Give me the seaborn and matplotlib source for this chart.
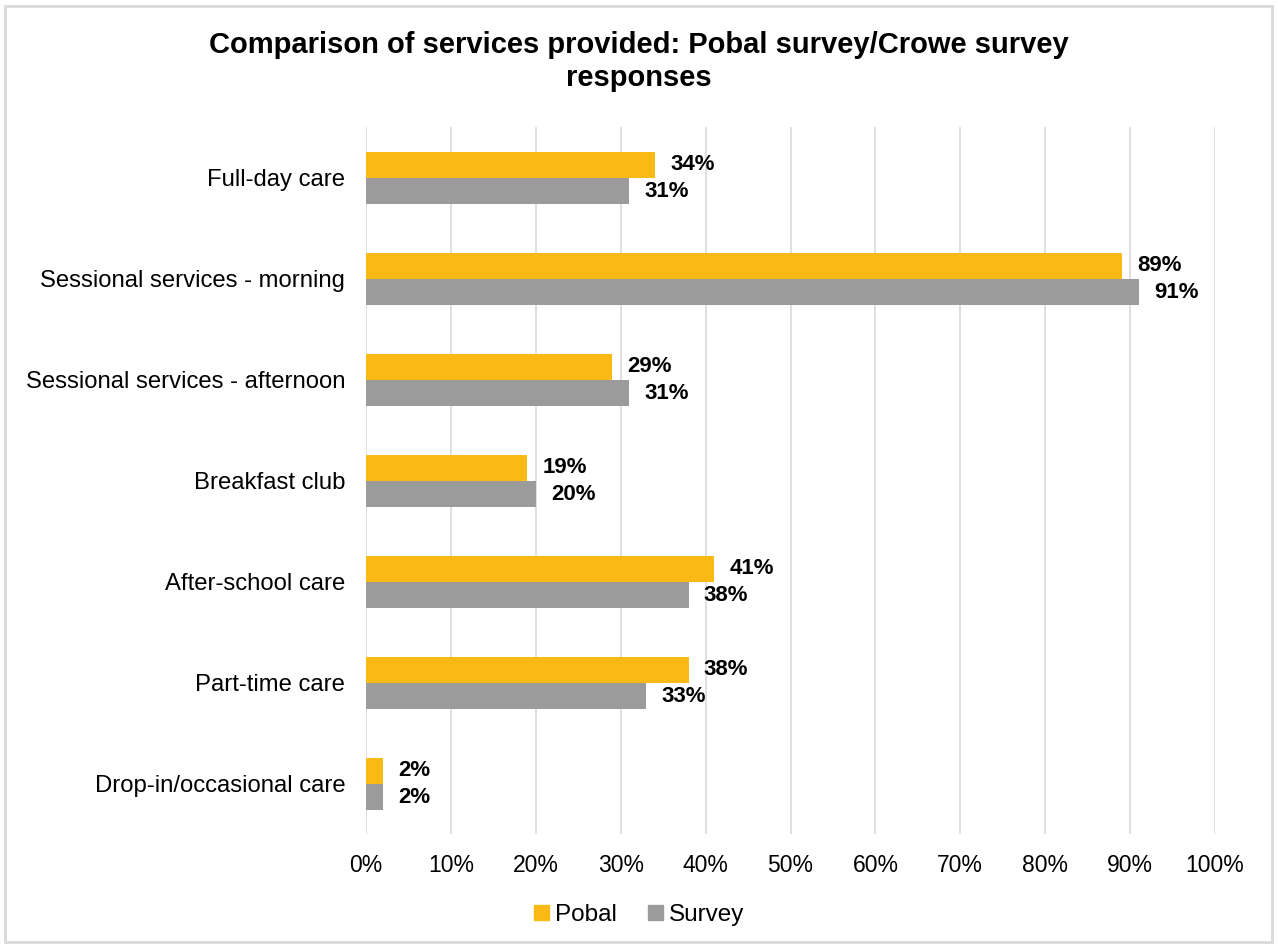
import matplotlib
matplotlib.use("Agg")
import matplotlib.pyplot as plt
import seaborn as sns
import pandas as pd
from matplotlib.patches import Rectangle

categories = ["Full-day care", "Sessional services - morning", "Sessional services - afternoon",
              "Breakfast club", "After-school care", "Part-time care", "Drop-in/occasional care"]
pobal = [34, 89, 29, 19, 41, 38, 2]
survey = [31, 91, 31, 20, 38, 33, 2]
series = ["Pobal", "Survey"]
colors = ["#FBB915", "#9B9B9B"]
xticks = list(range(0, 101, 10))

sns.set_theme(style="white")
plt.rcParams['font.family'] = ['Liberation Sans', 'DejaVu Sans']
plt.rcParams['text.color'] = '#000000'

df = pd.DataFrame({
    "category": categories * 2,
    "value": pobal + survey,
    "series": [series[0]] * len(categories) + [series[1]] * len(categories),
})

fig = plt.figure(figsize=(12.78, 9.47), dpi=100)
ax = fig.add_axes([0.2864, 0.1188, 0.6643, 0.7466])

sns.barplot(data=df, y="category", x="value", hue="series", orient="h",
            palette=colors, width=0.52, ax=ax, legend=True, saturation=1,
            order=categories, hue_order=series, linewidth=0, edgecolor="none")

ax.set_xlim(0, 100)
ax.set_xticks(xticks)
ax.set_xticklabels([f"{t}%" for t in xticks], fontsize=16.5, color="#000000")
ax.tick_params(axis="y", labelsize=17.2, colors="#000000", length=0, pad=15)
ax.tick_params(axis="x", length=0, pad=14)
ax.set_xlabel("")
ax.set_ylabel("")
ax.set_ylim(len(categories) - 0.5, -0.5)
ax.grid(axis="x", color="#D9D9D9", linewidth=1.2)
ax.set_axisbelow(True)
for s in ax.spines.values():
    s.set_visible(False)

for cont in ax.containers:
    ax.bar_label(cont, labels=[f"{v:.0f}%" for v in cont.datavalues], padding=11,
                 fontsize=16, fontweight="bold", color="#000000")

ax.legend_.remove()
handles = [Rectangle((0, 0), 1, 1, color=c) for c in colors]
fig.legend(handles, series, loc="center", bbox_to_anchor=(0.5, 0.034), ncol=2, frameon=False,
           fontsize=17.5, handlelength=0.6, handleheight=0.6, handletextpad=0.25, columnspacing=1.3,
           labelcolor="#000000")

fig.text(0.5, 0.935, "Comparison of services provided: Pobal survey/Crowe survey\nresponses",
         ha="center", va="center", fontsize=21, fontweight="bold", linespacing=1.2, color="#000000")

fig.patches.append(Rectangle((5 / 1278, 5 / 947), 1 - 11 / 1278, 1 - 11 / 947,
                             transform=fig.transFigure, fill=False, edgecolor="#D9D9D9", linewidth=2))

fig.savefig("out.png", dpi=100)
